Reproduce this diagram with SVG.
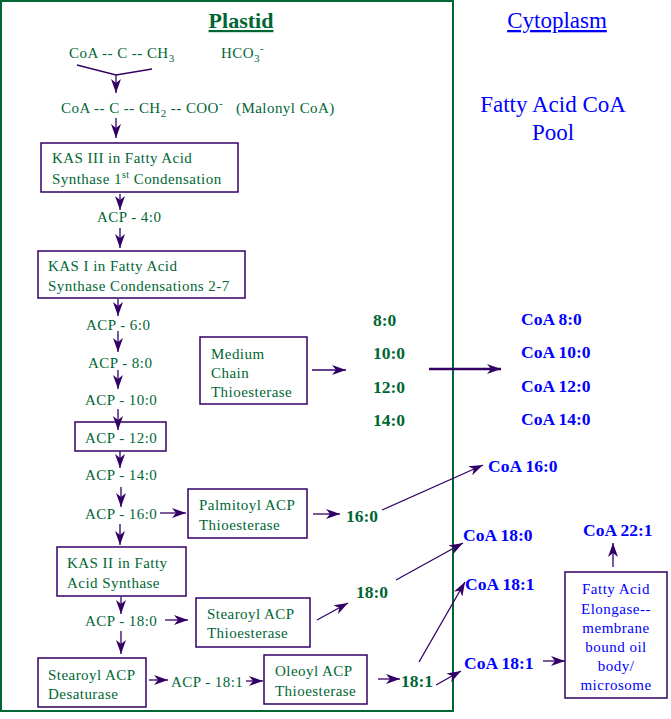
<svg xmlns="http://www.w3.org/2000/svg" width="671" height="719" viewBox="0 0 671 719">
<style>
.g{fill:#006633;font-family:"Liberation Serif",serif;font-size:15px;letter-spacing:0.45px}
.gb{fill:#006633;font-family:"Liberation Serif",serif;font-size:17.5px;font-weight:bold}
.b{fill:#0000ff;font-family:"Liberation Serif",serif;font-size:15px;letter-spacing:0.5px}
.bb{fill:#0000ff;font-family:"Liberation Serif",serif;font-size:17.5px;font-weight:bold}
.box{fill:none;stroke:#330066;stroke-width:1.5}
.c line,.c polyline{stroke:#330066;stroke-width:1.3;fill:none}
</style>
<defs>
<marker id="ah" viewBox="0 0 14 10" refX="14" refY="5" markerWidth="14" markerHeight="10" markerUnits="userSpaceOnUse" orient="auto">
<path d="M0,0 L14,5 L0,10 L4,5 z" fill="#330066"/>
</marker>
</defs>
<rect width="671" height="719" fill="#ffffff"/>
<rect id="plastid" x="1" y="1" width="452" height="710" fill="none" stroke="#006633" stroke-width="2"/>
<g id="titles">
<text x="241" y="28" text-anchor="middle" style="fill:#006633;font-family:'Liberation Serif',serif;font-size:22px;font-weight:bold;text-decoration:underline">Plastid</text>
<text x="557" y="28" text-anchor="middle" style="fill:#0000ff;font-family:'Liberation Serif',serif;font-size:23px;text-decoration:underline">Cytoplasm</text>
<text x="553" y="112" text-anchor="middle" style="fill:#0000ff;font-family:'Liberation Serif',serif;font-size:23px">Fatty Acid CoA</text>
<text x="553" y="140" text-anchor="middle" style="fill:#0000ff;font-family:'Liberation Serif',serif;font-size:23px">Pool</text>
</g>
<g id="acetyl"><text class="g" x="69" y="58">CoA -- C -- CH<tspan dy="4" font-size="11">3</tspan></text></g>
<g id="hco3"><text class="g" x="221" y="58">HCO<tspan dy="4" font-size="11">3</tspan><tspan dy="-10" font-size="11">-</tspan></text></g>
<g id="malonyl"><text class="g" x="61" y="113">CoA -- C -- CH<tspan dy="4" font-size="11">2</tspan><tspan dy="-4"> -- COO</tspan><tspan dy="-6" font-size="11">-</tspan></text><text class="g" x="236" y="113">(Malonyl CoA)</text></g>
<g id="kas3"><rect class="box" x="41" y="143" width="197" height="49"/><text class="g" x="52" y="163">KAS III in Fatty Acid</text><text class="g" x="52" y="184">Synthase 1<tspan dy="-6" font-size="10">st</tspan><tspan dy="6"> Condensation</tspan></text></g>
<g id="acp4"><text class="g" x="97" y="222">ACP - 4:0</text></g>
<g id="kas1"><rect class="box" x="38" y="251" width="207" height="47"/><text class="g" x="48" y="271">KAS I in Fatty Acid</text><text class="g" x="48" y="291">Synthase Condensations 2-7</text></g>
<g id="acp6"><text class="g" x="86" y="330">ACP - 6:0</text></g>
<g id="acp8"><text class="g" x="88" y="368">ACP - 8:0</text></g>
<g id="acp10"><text class="g" x="85" y="405">ACP - 10:0</text></g>
<g id="acp12"><rect class="box" x="75" y="422" width="91" height="29"/><text class="g" x="85" y="443">ACP - 12:0</text></g>
<g id="acp14"><text class="g" x="85" y="480">ACP - 14:0</text></g>
<g id="acp16"><text class="g" x="85" y="519">ACP - 16:0</text></g>
<g id="mcte"><rect class="box" x="200" y="337" width="107" height="67"/><text class="g" x="211" y="359">Medium</text><text class="g" x="211" y="378">Chain</text><text class="g" x="211" y="397">Thioesterase</text></g>
<g id="fa8"><text class="gb" x="373" y="326">8:0</text></g>
<g id="fa10"><text class="gb" x="373" y="359">10:0</text></g>
<g id="fa12"><text class="gb" x="373" y="393">12:0</text></g>
<g id="fa14"><text class="gb" x="373" y="426">14:0</text></g>
<g id="coa8"><text class="bb" x="521" y="325">CoA 8:0</text></g>
<g id="coa10"><text class="bb" x="521" y="358">CoA 10:0</text></g>
<g id="coa12"><text class="bb" x="521" y="392">CoA 12:0</text></g>
<g id="coa14"><text class="bb" x="521" y="425">CoA 14:0</text></g>
<g id="palm"><rect class="box" x="188" y="489" width="119" height="49"/><text class="g" x="199" y="510">Palmitoyl ACP</text><text class="g" x="199" y="530">Thioesterase</text></g>
<g id="fa16"><text class="gb" x="346" y="522">16:0</text></g>
<g id="coa16"><text class="bb" x="488" y="472">CoA 16:0</text></g>
<g id="kas2"><rect class="box" x="57" y="547" width="129" height="49"/><text class="g" x="67" y="568">KAS II in Fatty</text><text class="g" x="67" y="588">Acid Synthase</text></g>
<g id="acp18"><text class="g" x="85" y="626">ACP - 18:0</text></g>
<g id="stte"><rect class="box" x="196" y="598" width="114" height="49"/><text class="g" x="207" y="619">Stearoyl ACP</text><text class="g" x="207" y="638">Thioesterase</text></g>
<g id="fa18"><text class="gb" x="356" y="598">18:0</text></g>
<g id="coa18"><text class="bb" x="463" y="541">CoA 18:0</text></g>
<g id="desat"><rect class="box" x="38" y="658" width="108" height="49"/><text class="g" x="48" y="680">Stearoyl ACP</text><text class="g" x="48" y="699">Desaturase</text></g>
<g id="acp181"><text class="g" x="171" y="687">ACP - 18:1</text></g>
<g id="ole"><rect class="box" x="264" y="655" width="103" height="49"/><text class="g" x="275" y="676">Oleoyl ACP</text><text class="g" x="275" y="696">Thioesterase</text></g>
<g id="fa181"><text class="gb" x="401" y="687">18:1</text></g>
<g id="coa181a"><text class="bb" x="465" y="590">CoA 18:1</text></g>
<g id="coa181b"><text class="bb" x="464" y="669">CoA 18:1</text></g>
<g id="elong"><rect class="box" x="565" y="572" width="102" height="126"/>
<text class="b" x="616" y="594" text-anchor="middle">Fatty Acid</text>
<text class="b" x="616" y="614" text-anchor="middle">Elongase--</text>
<text class="b" x="616" y="633" text-anchor="middle">membrane</text>
<text class="b" x="616" y="652" text-anchor="middle">bound oil</text>
<text class="b" x="616" y="671" text-anchor="middle">body/</text>
<text class="b" x="616" y="690" text-anchor="middle">microsome</text></g>
<g id="coa221"><text class="bb" x="583" y="536">CoA 22:1</text></g>
<g class="c" id="connectors">
<polyline points="77,65 116,75 152,69"/>
<line x1="116" y1="75" x2="116" y2="93" marker-end="url(#ah)"/>
<line x1="116" y1="118" x2="116" y2="138" marker-end="url(#ah)"/>
<line x1="120" y1="194" x2="120" y2="210" marker-end="url(#ah)"/>
<line x1="120" y1="228" x2="120" y2="248" marker-end="url(#ah)"/>
<line x1="118" y1="299" x2="118" y2="316" marker-end="url(#ah)"/>
<line x1="118" y1="331" x2="118" y2="352" marker-end="url(#ah)"/>
<line x1="118" y1="370" x2="118" y2="389" marker-end="url(#ah)"/>
<line x1="118" y1="409" x2="118" y2="430" marker-end="url(#ah)"/>
<line x1="120" y1="451" x2="120" y2="468" marker-end="url(#ah)"/>
<line x1="121" y1="487" x2="121" y2="507" marker-end="url(#ah)"/>
<line x1="120" y1="524" x2="120" y2="545" marker-end="url(#ah)"/>
<line x1="121" y1="597" x2="121" y2="614" marker-end="url(#ah)"/>
<line x1="121" y1="631" x2="121" y2="654" marker-end="url(#ah)"/>
<line x1="312" y1="370" x2="346" y2="370" marker-end="url(#ah)"/>
<line x1="429" y1="369" x2="501" y2="369" style="stroke-width:2.5" marker-end="url(#ah)"/>
<line x1="160" y1="513" x2="186" y2="513" marker-end="url(#ah)"/>
<line x1="313" y1="514" x2="340" y2="514" marker-end="url(#ah)"/>
<line x1="382" y1="510" x2="483" y2="465" marker-end="url(#ah)"/>
<line x1="165" y1="620" x2="188" y2="620" marker-end="url(#ah)"/>
<line x1="317" y1="620" x2="348" y2="603" marker-end="url(#ah)"/>
<line x1="396" y1="580" x2="463" y2="543" marker-end="url(#ah)"/>
<line x1="149" y1="680" x2="168" y2="680" marker-end="url(#ah)"/>
<line x1="246" y1="681" x2="263" y2="681" marker-end="url(#ah)"/>
<line x1="378" y1="679" x2="400" y2="679" marker-end="url(#ah)"/>
<line x1="419" y1="662" x2="465" y2="582" marker-end="url(#ah)"/>
<line x1="436" y1="685" x2="461" y2="671" marker-end="url(#ah)"/>
<line x1="543" y1="661" x2="565" y2="661" marker-end="url(#ah)"/>
<line x1="613" y1="567" x2="613" y2="543" marker-end="url(#ah)"/>
</g>
</svg>
